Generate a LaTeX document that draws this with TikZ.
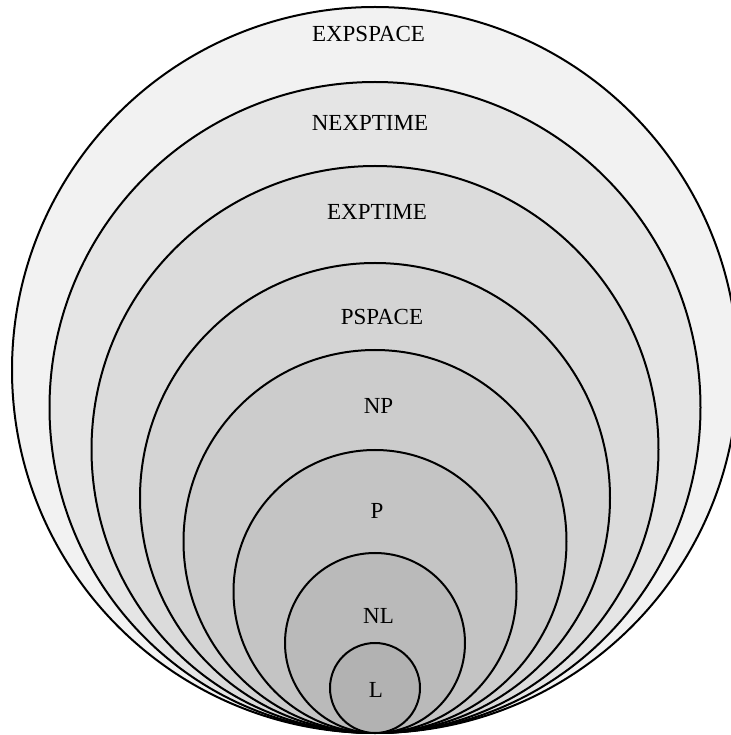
\documentclass[tikz,border=0pt]{standalone}
\usepackage{fontspec}
\setmainfont{Liberation Serif}
\usetikzlibrary{positioning}

\begin{document}
\begin{tikzpicture}[
    ring/.style={circle, draw=black, line width=1pt, outer sep=0pt, inner sep=0pt, anchor=south},
    classname/.style={inner sep=0pt, font=\fontsize{11.5}{14}\selectfont}
]
\clip (0,0) rectangle (365.5pt,367.5pt);
\coordinate (base) at (187.5pt,1pt);

% complexity classes, all touching at the bottom
\node[ring, fill=black!5,  minimum size=363pt]   (expspace) at (base) {};
\node[ring, fill=black!10, minimum size=325.5pt] (nexptime) at (base) {};
\node[ring, fill=black!14, minimum size=283.5pt] (exptime)  at (base) {};
\node[ring, fill=black!17, minimum size=235pt]   (pspace)   at (base) {};
\node[ring, fill=black!20, minimum size=191.5pt] (np)       at (base) {};
\node[ring, fill=black!23, minimum size=141.5pt] (p)        at (base) {};
\node[ring, fill=black!27, minimum size=90pt]    (nl)       at (base) {};
\node[ring, fill=black!30, minimum size=45pt]    (l)        at (base) {};

% names
\node[classname, below=9.5pt of expspace.north, xshift=-3.25pt]  (expspacename) {EXPSPACE};
\node[classname, below=16.5pt of nexptime.north, xshift=-2.5pt] (nexptimename) {NEXPTIME};
\node[classname, below=19pt of exptime.north, xshift=1pt]       (exptimename)  {EXPTIME};
\node[classname, below=23pt of pspace.north, xshift=3.5pt]      (pspacename)   {PSPACE};
\node[classname, below=24pt of np.north, xshift=1.75pt]         (npname)       {NP};
\node[classname, below=26.5pt of p.north, xshift=1pt]           (pname)        {P};
\node[classname, below=27.5pt of nl.north, xshift=1.75pt]       (nlname)       {NL};
\node[classname, below=19.5pt of l.north, xshift=0.5pt]         (lname)        {L};

\end{tikzpicture}
\end{document}
